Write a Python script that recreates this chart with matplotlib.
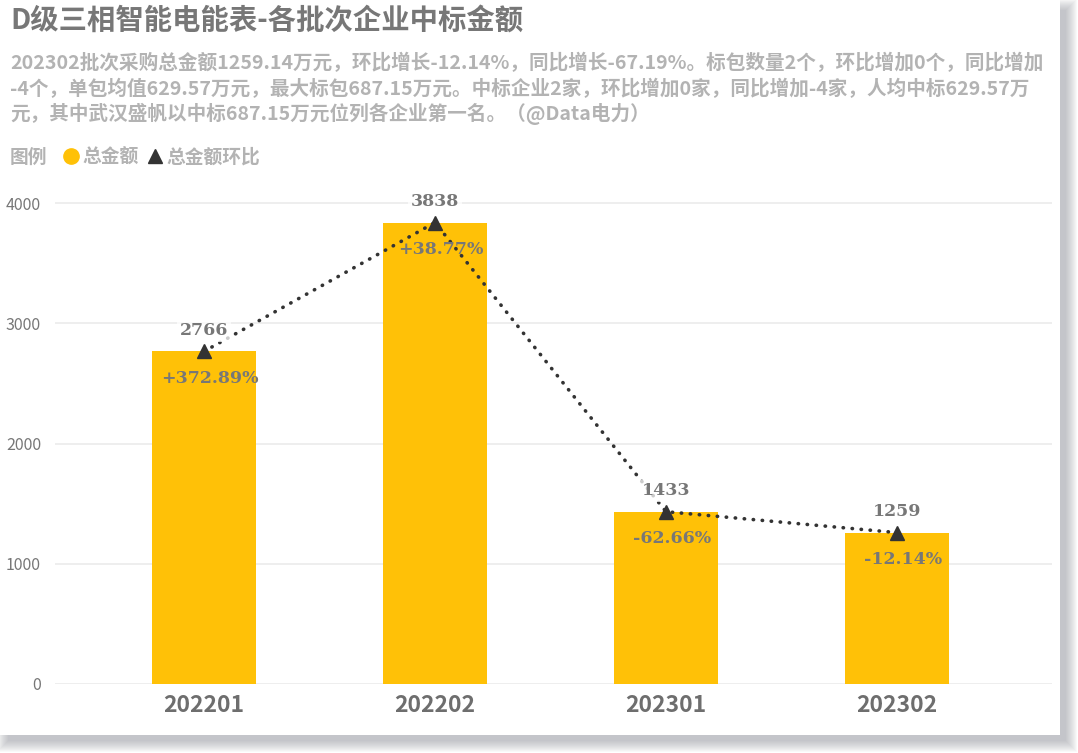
import matplotlib
matplotlib.use("Agg")
import matplotlib.pyplot as plt
import matplotlib.transforms as mtransforms
from matplotlib.patches import Rectangle
from matplotlib.lines import Line2D

plt.rcParams['font.family'] = ['Noto Sans CJK SC', 'DejaVu Sans']

# data
batches = ['202201', '202202', '202301', '202302']
amounts = [2766, 3838, 1433, 1259.14]
ratios = [372.89, 38.77, -62.66, -12.14]

title = 'D级三相智能电能表-各批次企业中标金额'
subtitle = ['202302批次采购总金额1259.14万元，环比增长-12.14%，同比增长-67.19%。标包数量2个，环比增加0个，同比增加',
            '-4个，单包均值629.57万元，最大标包687.15万元。中标企业2家，环比增加0家，同比增加-4家，人均中标629.57万',
            '元，其中武汉盛帆以中标687.15万元位列各企业第一名。（@Data电力）']

W, H = 1078, 753
fig = plt.figure(figsize=(W / 100, H / 100), dpi=100, facecolor='white')

# card + shadow, drawn in pixel coords
bg = fig.add_axes([0, 0, 1, 1], zorder=-5)
bg.set_xlim(0, W)
bg.set_ylim(H, 0)
bg.axis('off')
for k in range(12):
    bg.add_patch(Rectangle((8 - k, 10 - k), 1058 + 2 * k, 731 + 2 * k,
                           facecolor='#8a8d96', edgecolor='none', alpha=0.05))
bg.add_patch(Rectangle((0, 0), 1060, 735, facecolor='white', edgecolor='none'))


def fy(py):
    return 1 - py / H


fig.text(10 / W, fy(21), title, fontsize=20.4, fontweight='bold', color='#777777', va='center')
for i, line in enumerate(subtitle):
    fig.text(10 / W, fy(63 + i * 25.5), line, fontsize=14.1, fontweight='bold', color='#b3b3b3', va='center')

fig.text(10 / W, fy(157), '图例', fontsize=13.5, fontweight='bold', color='#b3b3b3', va='center')
handles = [Line2D([], [], marker='o', color='#FFC107', ls='', ms=11),
           Line2D([], [], marker='^', color='#333333', ls='', ms=10)]
fig.legend(handles, ['总金额', '总金额环比'], loc='center left', bbox_to_anchor=(52 / W, fy(157)),
           ncol=2, frameon=False, handletextpad=0.0, columnspacing=0.3, handlelength=1.2,
           prop={'size': 13.5, 'weight': 'bold'}, labelcolor='#b3b3b3', borderaxespad=0)

# main axes
ax = fig.add_axes([55 / W, (H - 684) / H, 997 / W, 493 / H])
x = list(range(len(batches)))
ax.bar(x, amounts, width=0.446, color='#FFC107', zorder=2)
ax.plot(x, amounts, color='#333333', ls=(0, (0.1, 2.4)), lw=2.6, marker='^', ms=10,
        dash_capstyle='round', zorder=3)

for xi, a, r in zip(x, amounts, ratios):
    ax.annotate(f'{a:.0f}', (xi, a), xytext=(0, 15), textcoords='offset points',
                ha='center', va='center', fontsize=12.5, fontweight='bold', family='DejaVu Serif',
                color='#777777', zorder=4,
                bbox=dict(boxstyle='square,pad=0.15', facecolor='white', edgecolor='none', alpha=0.75))
    ax.annotate(f'{r:+.2f}%', (xi, a), xytext=(4.5, -19.5), textcoords='offset points',
                ha='center', va='center', fontsize=12.5, fontweight='bold', family='DejaVu Serif',
                color='#777777', zorder=4)

ax.set_xlim(-0.645, 3.671)
ax.set_ylim(0, 4100)
ax.set_yticks([0, 1000, 2000, 3000, 4000])
ax.set_xticks(x)
ax.set_xticklabels(batches, fontsize=16.5, fontweight='bold', color='#6e6e6e')
shift = mtransforms.ScaledTranslation(4 / 100, 0, fig.dpi_scale_trans)
for lbl in ax.get_xticklabels():
    lbl.set_transform(lbl.get_transform() + shift)
ax.tick_params(axis='y', labelsize=11.5, labelcolor='#777777', length=0, pad=10)
ax.tick_params(axis='x', length=0, pad=7)
ax.grid(axis='y', color='#ebebeb', lw=1.2, zorder=0)
for s in ax.spines.values():
    s.set_visible(False)
ax.set_facecolor('none')

fig.savefig('out.png', dpi=100, facecolor='white')
